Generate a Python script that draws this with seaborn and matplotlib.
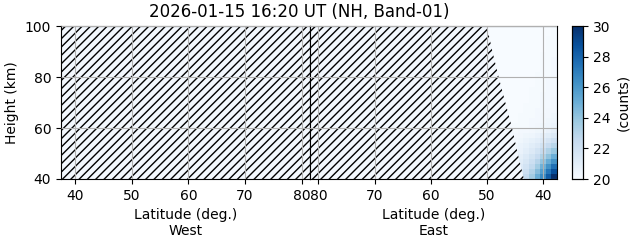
import numpy as np
import pandas as pd
import matplotlib
matplotlib.use("Agg")
import matplotlib.pyplot as plt
import seaborn as sns

# ---- data ----
title = "2026-01-15 16:20 UT (NH, Band-01)"
lat_limits = (37.5, 81.5)
west_ticks = [40, 50, 60, 70, 80]
east_ticks = [80, 70, 60, 50, 40]
height_ticks = [40, 60, 80, 100]
cbar_ticks = [20, 22, 24, 26, 28, 30]

# east panel cell centres (deg latitude, km)
east_lats = [38, 39, 40, 41, 42, 43, 44, 45, 46, 47, 48, 49, 50]
east_heights = [41, 43, 45, 47, 49, 51, 53, 55, 57, 59, 61, 63, 65, 67, 69,
                71, 73, 75, 77, 79, 81, 83, 85, 87, 89, 91, 93, 95, 97, 99]
east_counts = [
    [30.0, 28.3, 26.5, 25.0, 23.6, 22.6, 21.8, 21.2, 20.8, 20.5, 20.3, 20.2, 20.1],
    [28.8, 27.3, 25.7, 24.3, 23.1, 22.2, 21.5, 21.0, 20.7, 20.4, 20.3, 20.2, 20.1],
    [27.5, 26.2, 24.9, 23.6, 22.6, 21.9, 21.3, 20.9, 20.6, 20.4, 20.2, 20.1, 20.1],
    [26.2, 25.1, 24.0, 23.0, 22.2, 21.6, 21.1, 20.8, 20.5, 20.3, 20.2, 20.1, 20.1],
    [25.0, 24.1, 23.2, 22.4, 21.8, 21.3, 20.9, 20.6, 20.4, 20.3, 20.2, 20.1, 20.1],
    [23.9, 23.2, 22.5, 21.9, 21.4, 21.0, 20.7, 20.5, 20.3, 20.2, 20.1, 20.1, 20.0],
    [22.9, 22.4, 21.9, 21.4, 21.1, 20.8, 20.6, 20.4, 20.3, 20.2, 20.1, 20.0, 20.0],
    [22.1, 21.7, 21.3, 21.0, 20.8, 20.6, 20.4, 20.3, 20.2, 20.1, 20.1, 20.0, 20.0],
    [21.4, 21.1, 20.9, 20.7, 20.5, 20.4, 20.3, 20.2, 20.1, 20.1, 20.0, 20.0, 20.0],
    [20.9, 20.7, 20.5, 20.4, 20.3, 20.2, 20.2, 20.1, 20.1, 20.0, 20.0, 20.0, 20.0],
    [20.6, 20.5, 20.4, 20.3, 20.2, 20.1, 20.1, 20.1, 20.0, 20.0, 20.0, 20.0, 20.0],
    [20.5, 20.4, 20.3, 20.2, 20.2, 20.1, 20.1, 20.0, 20.0, 20.0, 20.0, 20.0, 20.0],
    [20.4, 20.3, 20.3, 20.2, 20.1, 20.1, 20.1, 20.0, 20.0, 20.0, 20.0, 20.0, 20.0],
    [20.3, 20.3, 20.2, 20.2, 20.1, 20.1, 20.0, 20.0, 20.0, 20.0, 20.0, 20.0, 20.0],
    [20.3, 20.2, 20.2, 20.1, 20.1, 20.1, 20.0, 20.0, 20.0, 20.0, 20.0, 20.0, 20.0],
    [20.3, 20.2, 20.2, 20.1, 20.1, 20.0, 20.0, 20.0, 20.0, 20.0, 20.0, 20.0, 20.0],
    [20.2, 20.2, 20.2, 20.1, 20.1, 20.0, 20.0, 20.0, 20.0, 20.0, 20.0, 20.0, 20.0],
    [20.2, 20.2, 20.1, 20.1, 20.1, 20.0, 20.0, 20.0, 20.0, 20.0, 20.0, 20.0, 20.0],
    [20.2, 20.2, 20.1, 20.1, 20.0, 20.0, 20.0, 20.0, 20.0, 20.0, 20.0, 20.0, 20.0],
    [20.2, 20.2, 20.1, 20.1, 20.0, 20.0, 20.0, 20.0, 20.0, 20.0, 20.0, 20.0, 20.0],
    [20.2, 20.1, 20.1, 20.1, 20.0, 20.0, 20.0, 20.0, 20.0, 20.0, 20.0, 20.0, 20.0],
    [20.2, 20.1, 20.1, 20.0, 20.0, 20.0, 20.0, 20.0, 20.0, 20.0, 20.0, 20.0, 20.0],
    [20.2, 20.1, 20.1, 20.0, 20.0, 20.0, 20.0, 20.0, 20.0, 20.0, 20.0, 20.0, 20.0],
    [20.2, 20.1, 20.1, 20.0, 20.0, 20.0, 20.0, 20.0, 20.0, 20.0, 20.0, 20.0, 20.0],
    [20.1, 20.1, 20.1, 20.0, 20.0, 20.0, 20.0, 20.0, 20.0, 20.0, 20.0, 20.0, 20.0],
    [20.1, 20.1, 20.0, 20.0, 20.0, 20.0, 20.0, 20.0, 20.0, 20.0, 20.0, 20.0, 20.0],
    [20.1, 20.1, 20.0, 20.0, 20.0, 20.0, 20.0, 20.0, 20.0, 20.0, 20.0, 20.0, 20.0],
    [20.1, 20.1, 20.0, 20.0, 20.0, 20.0, 20.0, 20.0, 20.0, 20.0, 20.0, 20.0, 20.0],
    [20.1, 20.0, 20.0, 20.0, 20.0, 20.0, 20.0, 20.0, 20.0, 20.0, 20.0, 20.0, 20.0],
    [20.1, 20.0, 20.0, 20.0, 20.0, 20.0, 20.0, 20.0, 20.0, 20.0, 20.0, 20.0, 20.0],
]

# edge of the no-data (hatched) area in the east panel
hatch_heights = [40, 50, 60, 70, 80, 90, 100]
hatch_east_lat = [43.4, 44.5, 45.5, 46.7, 47.9, 49.0, 50.0]

# ---- build long table for seaborn ----
rows = []
for i, h in enumerate(east_heights):
    for j, la in enumerate(east_lats):
        rows.append((la, h, east_counts[i][j]))
df = pd.DataFrame(rows, columns=["lat", "height", "counts"])
lat_edges = np.arange(min(east_lats) - 0.5, max(east_lats) + 1.0, 1.0)
h_edges = np.arange(min(east_heights) - 1, max(east_heights) + 2, 2)

sns.set_style("ticks")
plt.rcParams["font.family"] = ["DejaVu Sans"]
plt.rcParams["hatch.linewidth"] = 1.0
for key in ["text.color", "axes.labelcolor", "xtick.color", "ytick.color", "axes.edgecolor"]:
    plt.rcParams[key] = "black"

fig = plt.figure(figsize=(6.31, 2.43), dpi=100)
bottom, height = 64 / 243, 153 / 243
ax_w = fig.add_axes([61 / 631, bottom, 249 / 631, height])
ax_e = fig.add_axes([310 / 631, bottom, 247 / 631, height], sharey=ax_w)
cax = fig.add_axes([572 / 631, bottom, 11 / 631, height])

bg = plt.get_cmap("Blues")(0.02)
HATCH = "////"

# west: entirely no data
ax_w.fill_betweenx(hatch_heights, lat_limits[0], lat_limits[1],
                   facecolor=bg, edgecolor="black", hatch=HATCH, linewidth=0, zorder=1)

# east: counts mesh
sns.histplot(data=df, x="lat", y="height", weights="counts",
             bins=[lat_edges, h_edges], cmap="Blues", vmin=20, vmax=30,
             cbar=True, cbar_ax=cax, ax=ax_e, zorder=0.5)
ax_e.fill_betweenx(hatch_heights, hatch_east_lat, lat_limits[1],
                   facecolor=bg, edgecolor="black", hatch=HATCH, linewidth=0, zorder=1)

for ax, ticks, side in [(ax_w, west_ticks, "West"), (ax_e, east_ticks, "East")]:
    ax.set_xticks(ticks)
    ax.set_xlabel(f"Latitude (deg.)\n{side}", fontsize=10)
    ax.grid(True, color="#b0b0b0", linewidth=0.8)
    ax.set_axisbelow(False)
    ax.tick_params(labelsize=10, length=3.5, width=0.8, colors="black")
    for s in ax.spines.values():
        s.set_visible(True)
        s.set_linewidth(0.8)
        s.set_color("black")

ax_w.set_xlim(lat_limits)
ax_e.set_xlim(lat_limits[1], lat_limits[0])
ax_w.set_ylim(40, 100)
ax_w.set_yticks(height_ticks)
ax_w.set_ylabel("Height (km)", fontsize=10)
ax_e.set_ylabel("")
ax_e.tick_params(left=False, labelleft=False)

cax.set_yticks(cbar_ticks)
cax.tick_params(labelsize=10, length=3.5, width=0.8, colors="black")
cax.set_ylabel("(counts)", fontsize=10)
for s in cax.spines.values():
    s.set_visible(True)
    s.set_linewidth(0.8)
    s.set_color("black")

fig.text(299 / 631, 1 - 12 / 243, title, ha="center", va="center", fontsize=12)

fig.savefig("out.png", dpi=100)
